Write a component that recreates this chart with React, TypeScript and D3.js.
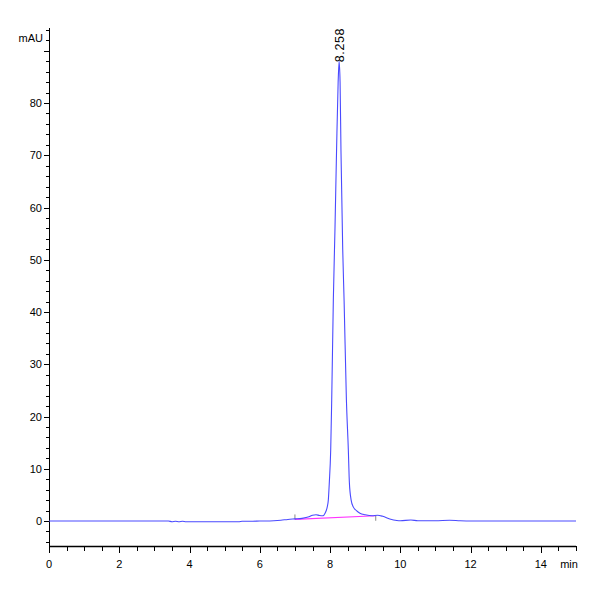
import React from "react";
import * as d3 from "d3";

const times = [0, 1, 2, 3, 3.4, 3.5, 3.6, 3.7, 3.8, 3.9, 4.0, 4.5, 5.0, 5.4, 5.5, 5.8, 6.0, 6.2, 6.4, 6.6, 6.8, 7.0, 7.2, 7.4, 7.5, 7.6, 7.7, 7.8, 7.857, 7.92, 7.95, 7.978, 8.018, 8.047, 8.093, 8.14, 8.185, 8.23, 8.258, 8.285, 8.31, 8.36, 8.40, 8.465, 8.52, 8.55, 8.60, 8.66, 8.75, 8.85, 9.0, 9.2, 9.35, 9.5, 9.7, 9.9, 10.0, 10.3, 10.5, 11.0, 11.4, 11.7, 12.0, 13.0, 15.0];
const signal = [0, 0, 0, 0, 0, -0.15, -0.05, -0.15, -0.05, -0.15, -0.15, -0.15, -0.15, -0.15, -0.05, -0.05, 0, 0, 0.05, 0.15, 0.3, 0.4, 0.5, 0.8, 1.1, 1.2, 1.05, 1.0, 1.5, 2.7, 4.0, 7.3, 13.6, 23.2, 42.3, 56, 71, 84, 88, 84, 71, 52, 42, 23.2, 13.6, 7.3, 4.0, 2.7, 2.0, 1.5, 1.2, 1.0, 1.1, 0.9, 0.4, 0.1, 0.05, 0.2, 0.05, 0.05, 0.15, 0.05, 0, 0, 0];

const xTickLabels = [0, 2, 4, 6, 8, 10, 12, 14];
const yTickLabels = [0, 10, 20, 30, 40, 50, 60, 70, 80];
const peakTime = 8.258;
const peakHeight = 88;
const peakLabel = "8.258";
const baselineStart = [7.0, 0.3];
const baselineEnd = [9.3, 1.0];

export default function App() {
  const W = 600, H = 600;
  const x = d3.scaleLinear().domain([0, 15]).range([49, 576]);
  const y = d3.scaleLinear().domain([0, 80]).range([521, 103]);
  const yTop = 28, yBot = 546;
  const font = "'Liberation Sans Narrow', 'Liberation Sans', Arial, sans-serif";

  const pts: [number, number][] = times.map((t, i) => [t, signal[i]]);
  const line = d3.line<[number, number]>().x(d => x(d[0])).y(d => y(d[1])).curve(d3.curveMonotoneX);

  const yMinor = d3.range(-4, 95, 2);
  const xMinor = d3.range(0, 15.01, 0.5);

  return (
    <svg width={W} height={H} style={{ position: "absolute", left: 0, top: 0, background: "#fff" }}>
      {/* y axis */}
      <line x1={49.5} x2={49.5} y1={yTop} y2={yBot} stroke="#000" strokeWidth={1} />
      {yMinor.map(v => {
        const major = v % 10 === 0;
        return <line key={"ym" + v} x1={major ? 44 : 46} x2={49.5} y1={Math.round(y(v)) + 0.5} y2={Math.round(y(v)) + 0.5} stroke="#000" strokeWidth={1} />;
      })}
      {yTickLabels.map(v => (
        <text key={"yl" + v} x={42} y={y(v) + 4} textAnchor="end" fontSize={11} fontFamily={font} fill="#000">{v}</text>
      ))}
      <text x={43} y={42} textAnchor="end" fontSize={11} fontFamily={font} fill="#000">mAU</text>

      {/* x axis */}
      <line x1={49} x2={576} y1={546.5} y2={546.5} stroke="#000" strokeWidth={1.5} />
      {xMinor.map(v => {
        const major = Math.abs(v % 2) < 1e-6;
        return <line key={"xm" + v} x1={Math.round(x(v)) + 0.5} x2={Math.round(x(v)) + 0.5} y1={546} y2={major ? 553 : 551} stroke="#000" strokeWidth={1} />;
      })}
      {xTickLabels.map(v => (
        <text key={"xl" + v} x={x(v)} y={568} textAnchor="middle" fontSize={11} fontFamily={font} fill="#000">{v}</text>
      ))}
      <text x={569} y={568} textAnchor="middle" fontSize={11} fontFamily={font} fill="#000">min</text>

      {/* integration baseline */}
      <line x1={x(baselineStart[0])} y1={y(baselineStart[1])} x2={x(baselineEnd[0])} y2={y(baselineEnd[1])} stroke="#ff33ff" strokeWidth={1.2} />
      <line x1={x(baselineStart[0])} x2={x(baselineStart[0])} y1={y(baselineStart[1]) - 5} y2={y(baselineStart[1])} stroke="#888" strokeWidth={1} />
      <line x1={x(baselineEnd[0])} x2={x(baselineEnd[0])} y1={y(baselineEnd[1])} y2={y(baselineEnd[1]) + 5} stroke="#888" strokeWidth={1} />

      {/* signal */}
      <path d={line(pts) || ""} fill="none" stroke="#4a4aff" strokeWidth={1.1} />

      {/* peak label */}
      <text transform={`translate(${x(peakTime) + 4.5},${y(peakHeight) + 1}) rotate(-90)`} textAnchor="start" fontSize={12.5} letterSpacing={0.6} fontFamily="'Liberation Sans', Arial, sans-serif" fill="#000">{peakLabel}</text>
    </svg>
  );
}
